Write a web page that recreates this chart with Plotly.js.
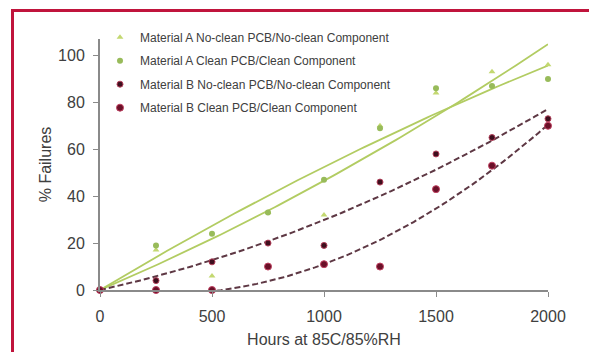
<!DOCTYPE html>
<html><head><meta charset="utf-8">
<script src="https://cdn.plot.ly/plotly-3.0.1.min.js"></script>
<style>
html,body{margin:0;padding:0;background:#fff;overflow:hidden}
#chart{width:589px;height:352px}
#frame{position:absolute;left:11px;top:9px;width:620px;height:400px;border-left:3px solid #c0143c;border-top:3px solid #c0143c;pointer-events:none}
</style>
</head><body><div id="chart"></div><div id="frame"></div>
<script>
// Data
const hours = [0, 250, 500, 750, 1000, 1250, 1500, 1750, 2000];
const seriesNames = [
  'Material A No-clean PCB/No-clean Component',
  'Material A Clean PCB/Clean Component',
  'Material B No-clean PCB/No-clean Component',
  'Material B Clean PCB/Clean Component'
];
const matANoClean = [0, 17, 6, 33, 32, 70, 84, 93, 96];
const matAClean   = [0, 19, 24, 33, 47, 69, 86, 87, 90];
const matBNoClean = [0, 4, 12, 20, 19, 46, 58, 65, 73];
const matBClean   = [0, 0, 0, 10, 11, 10, 43, 53, 70];
// Polynomial trendline coefficients [c0, c1, c2], x in thousands of hours
const trendANoClean = [0, 40.7, 5.84];
const trendAClean   = [0, 57.1, -4.63];
const trendBNoClean = [0, 21.0, 8.8];
const trendBClean   = [0, -13.25, 24.25];
const xTicks = [0, 500, 1000, 1500, 2000];
const yTicks = [0, 20, 40, 60, 80, 100];

function trend(coef) {
  const xs = [], ys = [];
  for (let h = hours[0]; h <= hours[hours.length - 1]; h += 20) {
    const t = h / 1000;
    xs.push(h); ys.push(coef[0] + coef[1] * t + coef[2] * t * t);
  }
  return {xs, ys};
}

const greenLine = '#b2cc62';
const redLine = '#5e3844';
const traces = [];
function addTrend(coef, color, dash) {
  const t = trend(coef);
  traces.push({x: t.xs, y: t.ys, mode: 'lines', showlegend: false, hoverinfo: 'skip',
    line: {color: color, width: dash ? 2 : 1.8, dash: dash ? '6px,3px' : 'solid'}});
}
addTrend(trendANoClean, greenLine, false);
addTrend(trendAClean, greenLine, false);
addTrend(trendBNoClean, redLine, true);
addTrend(trendBClean, redLine, true);

traces.push({x: hours, y: matANoClean, name: seriesNames[0], mode: 'markers', cliponaxis: false,
  marker: {symbol: 'triangle-up', size: 6, color: '#c3d870'}});
traces.push({x: hours, y: matAClean, name: seriesNames[1], mode: 'markers', cliponaxis: false,
  marker: {symbol: 'circle', size: 6, color: '#98bb5a'}});
traces.push({x: hours, y: matBNoClean, name: seriesNames[2], mode: 'markers', cliponaxis: false,
  marker: {symbol: 'circle', size: 6, color: '#3e0f1e', line: {color: '#b3405a', width: 1}}});
traces.push({x: hours, y: matBClean, name: seriesNames[3], mode: 'markers', cliponaxis: false,
  marker: {symbol: 'circle', size: 7, color: '#6a1028', line: {color: '#c04060', width: 1}}});

const layout = {
  width: 589, height: 352,
  margin: {l: 100, r: 41, t: 39, b: 62},
  paper_bgcolor: '#ffffff', plot_bgcolor: '#ffffff',
  font: {family: 'Liberation Sans, Arial, sans-serif', color: '#404040', size: 16},
  showlegend: true,
  legend: {x: 0.0, y: 1.065, xanchor: 'left', yanchor: 'top', bgcolor: 'rgba(0,0,0,0)',
    font: {size: 12, color: '#404040'}, traceorder: 'grouped', tracegroupgap: 4.5, itemwidth: 30},
  xaxis: {range: [0, 2000], tickvals: xTicks, ticktext: xTicks.map(String),
    showgrid: false, zeroline: false, showline: true, linecolor: '#8a8a8a', linewidth: 2,
    ticks: 'outside', ticklen: 5, tickcolor: '#8a8a8a', tickwidth: 1, ticklabelstandoff: 6,
    tickfont: {size: 16, color: '#404040'},
    title: {text: 'Hours at 85C/85%RH', font: {size: 16, color: '#404040'}, standoff: 10}},
  yaxis: {range: [0, 107], tickvals: yTicks, ticktext: yTicks.map(String),
    showgrid: false, zeroline: false, showline: true, linecolor: '#8a8a8a', linewidth: 2,
    ticks: 'outside', ticklen: 5, tickcolor: '#8a8a8a', tickwidth: 1, ticklabelstandoff: 5,
    tickfont: {size: 16, color: '#404040'},
    title: {text: '% Failures', font: {size: 16, color: '#404040'}, standoff: 2}}
};
traces.forEach((t, i) => { if (t.name) t.legendgroup = 'g' + i; });
Plotly.newPlot('chart', traces, layout, {displayModeBar: false, staticPlot: true});
</script>
</body></html>
